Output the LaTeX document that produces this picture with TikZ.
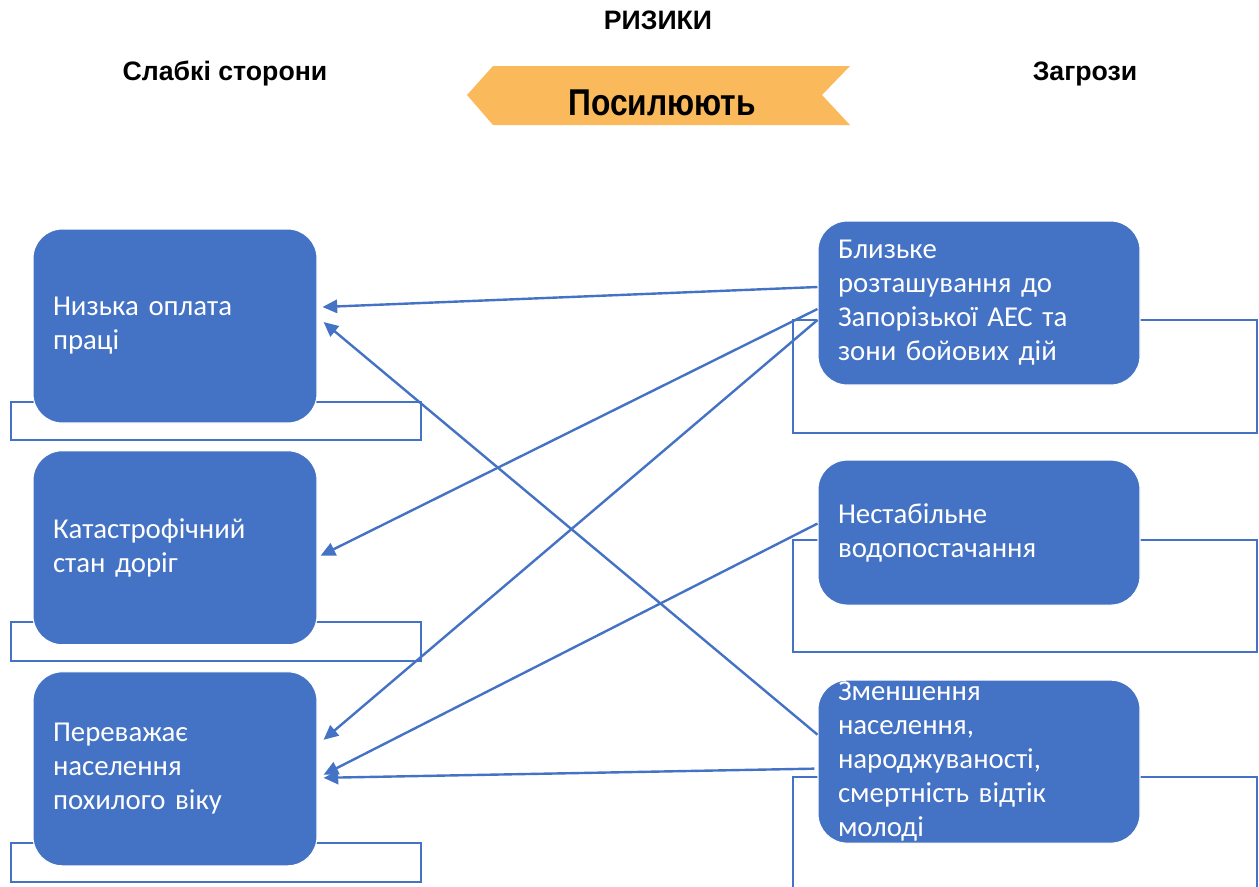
\documentclass[tikz,border=0pt]{standalone}
\usepackage{fontspec}
\usepackage{graphicx}
\setmainfont{Carlito}
\newfontfamily\headfont{Liberation Sans}
\usetikzlibrary{arrows.meta,positioning}
\definecolor{boxBlue}{HTML}{4472C4}
\definecolor{bannerGold}{HTML}{FAB95A}

\begin{document}
\begin{tikzpicture}[x=0.75pt,y=-0.75pt,>={Triangle[length=11pt,width=10pt]},
  weak/.style={draw=white,line width=0.8pt,fill=boxBlue,rounded corners=22pt,text=white,
    minimum width=213pt,minimum height=145.5pt,text width=183pt,align=left,
    inner xsep=15pt,inner ysep=0pt,font=\fontsize{21.6}{25.5}\selectfont},
  threat/.style={weak,minimum width=241.5pt,text width=211.5pt},
  frame/.style={draw=boxBlue,line width=1.5pt},
  link/.style={->,draw=boxBlue,line width=1.8pt},
  head/.style={anchor=base,font=\headfont\bfseries\fontsize{20}{22}\selectfont}]
  \useasboundingbox (0,0) rectangle (1259,886);
  \node[head] (risk) at (658,29) {РИЗИКИ};
  \node[head] (weakh) at (225,80) {Слабкі сторони};
  \node[head] (threath) at (1085,80) {Загрози};
  \fill[bannerGold] (493,66) -- (850,66) -- (822,95) -- (850,125) -- (493,125) -- (467,95) -- cycle;
  \node[anchor=base,font=\headfont\bfseries\fontsize{28}{30}\selectfont] (boost) at (662,115)
    {\scalebox{0.85}[1]{Посилюють}};
  \foreach \ya/\yb in {402/440,622/661,843/882}
    \draw[frame] (11,\ya) rectangle (421,\yb);
  \foreach \ya/\yb in {320/433,540/652}
    \draw[frame] (793,\ya) rectangle (1257,\yb);
  \draw[frame] (793,890) -- (793,777) -- (1257,777) -- (1257,890);
  \node[weak] (l1) at (175,326) {Низька оплата\\праці};
  \node[weak,below=20pt of l1] (l2) {Катастрофічний\\стан доріг};
  \node[weak,below=19.5pt of l2] (l3) {Переважає\\населення\\похилого віку};
  \node[threat,minimum height=123pt] (r1) at (979,303)
    {Близьке\\розташування до\\Запорізької АЕС та\\зони бойових дій};
  \node[threat,minimum height=108.75pt,below=55.5pt of r1] (r2) {Нестабільне\\водопостачання};
  \node[threat,minimum height=122.25pt,below=55.5pt of r2] (r3)
    {Зменшення\\населення,\\народжуваності,\\смертність відтік\\молоді};
  \draw[link] ([shift={(0,-16)}]r1.west) -- ([shift={(5,-19)}]l1.east);
  \draw[link] ([shift={(0,-27)}]r3.west) -- ([shift={(6,-4)}]l1.east);
  \draw[link] ([shift={(0,6)}]r1.west) -- ([shift={(3,8)}]l2.east);
  \draw[link] ([shift={(0,17)}]r1.west) -- ([shift={(6,-29)}]l3.east);
  \draw[link] ([shift={(0,-9)}]r2.west) -- ([shift={(6,6)}]l3.east);
  \draw[link] ([shift={(-3,7)}]r3.west) -- ([shift={(6,9)}]l3.east);
\end{tikzpicture}
\end{document}
